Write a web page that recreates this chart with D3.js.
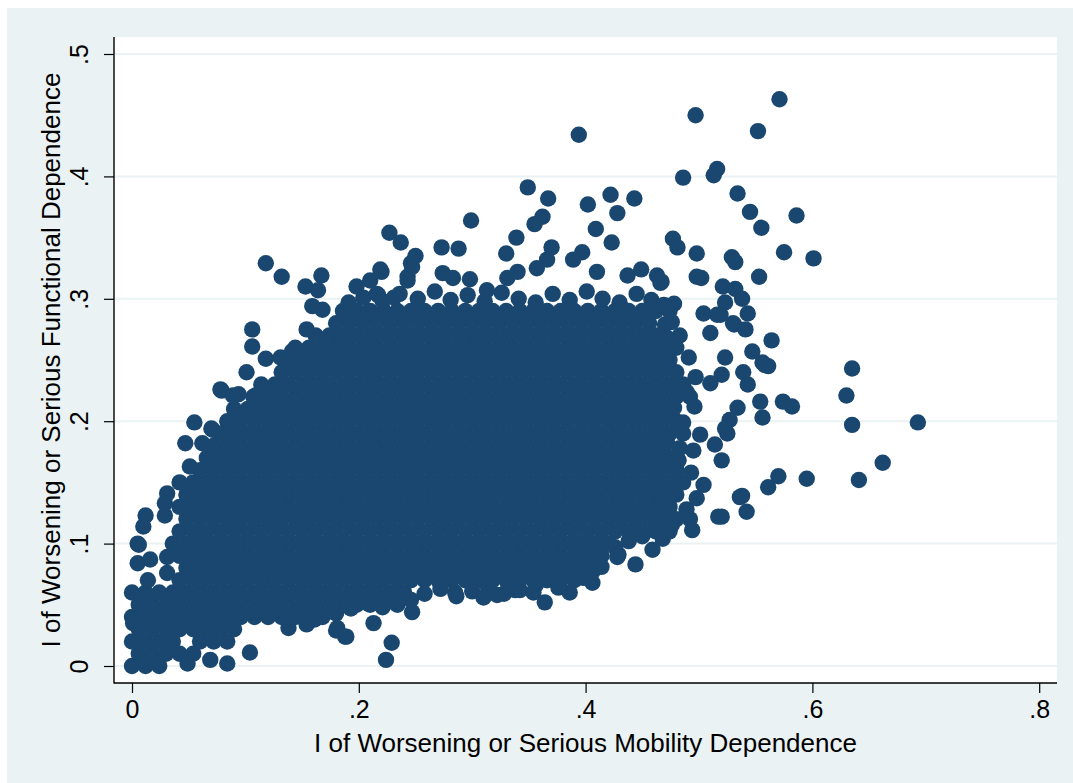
<!DOCTYPE html>
<html>
<head>
<meta charset="utf-8">
<script src="https://cdn.jsdelivr.net/npm/d3@7"></script>
<style>
  html, body { margin: 0; padding: 0; background: #ffffff; }
  svg { display: block; }
  text { font-family: "Liberation Sans", Arial, Helvetica, sans-serif; fill: #000; }
</style>
</head>
<body>
<svg id="chart" width="1073" height="783"></svg>
<script>
// Axis ticks and titles
const xTicks = [0, 0.2, 0.4, 0.6, 0.8];
const xTickLabels = ["0", ".2", ".4", ".6", ".8"];
const yTicks = [0, 0.1, 0.2, 0.3, 0.4, 0.5];
const yTickLabels = ["0", ".1", ".2", ".3", ".4", ".5"];
const xTitle = "I of Worsening or Serious Mobility Dependence";
const yTitle = "I of Worsening or Serious Functional Dependence";

// Dense central mass of observations, one list of x values per y level
const coreRowY = [0.00, 0.01, 0.02, 0.03, 0.04, 0.05, 0.06, 0.07, 0.08, 0.09, 0.10,
                  0.11, 0.12, 0.13, 0.14, 0.15, 0.16, 0.17, 0.18, 0.19, 0.20,
                  0.21, 0.22, 0.23, 0.24, 0.25, 0.26, 0.27, 0.28, 0.29];
const coreRowX = [
  [0,.012,.024],
  [.006,.018,.030,.042,.054],
  [0,.012,.024,.036,.060,.072,.084],
  [.006,.018,.030,.042,.054,.066,.078,.090],
  [0,.012,.024,.036,.048,.060,.072,.084,.096,.108,.120,.132,.144,.156,.168],
  [.006,.018,.030,.042,.054,.066,.078,.090,.102,.114,.126,.138,.150,.162,.174,.186,.198,.210,.222,.234],
  [0,.012,.024,.036,.048,.060,.072,.084,.096,.108,.120,.132,.144,.156,.168,.180,.192,.204,.216,.228,.240],
  [.042,.054,.066,.078,.090,.102,.114,.126,.138,.150,.162,.174,.186,.198,.210,.222,.234,.246,.258,.270,.282,.294,.306,.318,.330,.342,.354,.366,.378,.390],
  [.048,.060,.072,.084,.096,.108,.120,.132,.144,.156,.168,.180,.192,.204,.216,.228,.240,.252,.264,.276,.288,.300,.312,.324,.336,.348,.360,.372,.384,.396,.408],
  [.042,.054,.066,.078,.090,.102,.114,.126,.138,.150,.162,.174,.186,.198,.210,.222,.234,.246,.258,.270,.282,.294,.306,.318,.330,.342,.354,.366,.378,.390,.402,.414],
  [.036,.048,.060,.072,.084,.096,.108,.120,.132,.144,.156,.168,.180,.192,.204,.216,.228,.240,.252,.264,.276,.288,.300,.312,.324,.336,.348,.360,.372,.384,.396,.408,.420],
  [.042,.054,.066,.078,.090,.102,.114,.126,.138,.150,.162,.174,.186,.198,.210,.222,.234,.246,.258,.270,.282,.294,.306,.318,.330,.342,.354,.366,.378,.390,.402,.414,.426,.438,.450,.462],
  [.048,.060,.072,.084,.096,.108,.120,.132,.144,.156,.168,.180,.192,.204,.216,.228,.240,.252,.264,.276,.288,.300,.312,.324,.336,.348,.360,.372,.384,.396,.408,.420,.432,.444,.456,.468,.480,.492],
  [.042,.054,.066,.078,.090,.102,.114,.126,.138,.150,.162,.174,.186,.198,.210,.222,.234,.246,.258,.270,.282,.294,.306,.318,.330,.342,.354,.366,.378,.390,.402,.414,.426,.438,.450,.462,.474],
  [.048,.060,.072,.084,.096,.108,.120,.132,.144,.156,.168,.180,.192,.204,.216,.228,.240,.252,.264,.276,.288,.300,.312,.324,.336,.348,.360,.372,.384,.396,.408,.420,.432,.444,.456,.468,.480],
  [.054,.066,.078,.090,.102,.114,.126,.138,.150,.162,.174,.186,.198,.210,.222,.234,.246,.258,.270,.282,.294,.306,.318,.330,.342,.354,.366,.378,.390,.402,.414,.426,.438,.450,.462,.474,.486],
  [.060,.072,.084,.096,.108,.120,.132,.144,.156,.168,.180,.192,.204,.216,.228,.240,.252,.264,.276,.288,.300,.312,.324,.336,.348,.360,.372,.384,.396,.408,.420,.432,.444,.456,.468,.480],
  [.066,.078,.090,.102,.114,.126,.138,.150,.162,.174,.186,.198,.210,.222,.234,.246,.258,.270,.282,.294,.306,.318,.330,.342,.354,.366,.378,.390,.402,.414,.426,.438,.450,.462,.474],
  [.072,.084,.096,.108,.120,.132,.144,.156,.168,.180,.192,.204,.216,.228,.240,.252,.264,.276,.288,.300,.312,.324,.336,.348,.360,.372,.384,.396,.408,.420,.432,.444,.456,.468],
  [.078,.090,.102,.114,.126,.138,.150,.162,.174,.186,.198,.210,.222,.234,.246,.258,.270,.282,.294,.306,.318,.330,.342,.354,.366,.378,.390,.402,.414,.426,.438,.450,.462,.474,.486],
  [.084,.096,.108,.120,.132,.144,.156,.168,.180,.192,.204,.216,.228,.240,.252,.264,.276,.288,.300,.312,.324,.336,.348,.360,.372,.384,.396,.408,.420,.432,.444,.456,.468,.480],
  [.090,.102,.114,.126,.138,.150,.162,.174,.186,.198,.210,.222,.234,.246,.258,.270,.282,.294,.306,.318,.330,.342,.354,.366,.378,.390,.402,.414,.426,.438,.450,.462,.474],
  [.108,.120,.132,.144,.156,.168,.180,.192,.204,.216,.228,.240,.252,.264,.276,.288,.300,.312,.324,.336,.348,.360,.372,.384,.396,.408,.420,.432,.444,.456,.468,.480,.492],
  [.114,.126,.138,.150,.162,.174,.186,.198,.210,.222,.234,.246,.258,.270,.282,.294,.306,.318,.330,.342,.354,.366,.378,.390,.402,.414,.426,.438,.450,.462,.474,.486],
  [.132,.144,.156,.168,.180,.192,.204,.216,.228,.240,.252,.264,.276,.288,.300,.312,.324,.336,.348,.360,.372,.384,.396,.408,.420,.432,.444,.456,.468,.480],
  [.138,.150,.162,.174,.186,.198,.210,.222,.234,.246,.258,.270,.282,.294,.306,.318,.330,.342,.354,.366,.378,.390,.402,.414,.426,.438,.450,.462,.474],
  [.144,.156,.168,.180,.192,.204,.216,.228,.240,.252,.264,.276,.288,.300,.312,.324,.336,.348,.360,.372,.384,.396,.408,.420,.432,.444,.456,.468,.480],
  [.162,.174,.186,.198,.210,.222,.234,.246,.258,.270,.282,.294,.306,.318,.330,.342,.354,.366,.378,.390,.402,.414,.426,.438,.450,.462],
  [.180,.192,.204,.216,.228,.240,.252,.264,.276,.288,.300,.312,.324,.336,.348,.360,.372,.384,.396,.408,.420,.432,.444,.456],
  [.186,.198,.210,.222,.234,.246,.258,.270,.282,.294,.306,.318,.330,.342,.354,.366,.378,.390,.402,.414,.426,.438,.450,.462,.474]
];

// Observations along the ragged rim of the mass: [x, y]
const rimPoints = [
  // upper rim
  [0.204,0.301],[0.221,0.298],[0.236,0.304],[0.252,0.300],[0.267,0.306],[0.281,0.299],[0.296,0.303],
  [0.311,0.298],[0.326,0.305],[0.341,0.300],[0.356,0.297],[0.371,0.304],[0.386,0.299],[0.401,0.306],
  [0.415,0.300],[0.430,0.297],[0.445,0.304],[0.458,0.299],[0.469,0.295],
  // right rim
  [0.470,0.279],[0.476,0.262],[0.491,0.252],[0.497,0.236],[0.489,0.224],[0.496,0.212],[0.486,0.199],
  [0.495,0.176],[0.482,0.168],[0.493,0.158],[0.498,0.137],[0.489,0.128],[0.483,0.178],[0.478,0.211],
  // lower rim
  [0.246,0.054],[0.258,0.059],[0.272,0.063],[0.286,0.057],[0.300,0.061],[0.314,0.064],[0.328,0.059],
  [0.342,0.062],[0.356,0.066],[0.398,0.072],[0.414,0.081],[0.426,0.097],[0.438,0.102],[0.450,0.106],
  [0.180,0.043],[0.193,0.047],[0.208,0.051],[0.221,0.048],[0.234,0.053],[0.161,0.038],
  [0.474,0.110],[0.468,0.104]
];

// Scattered observations around the mass: [x, y]
const upperPoints = [
  [0.571,0.463],[0.497,0.450],[0.394,0.434],[0.552,0.437],[0.486,0.399],[0.516,0.406],[0.513,0.401],
  [0.349,0.391],[0.367,0.382],[0.402,0.377],[0.422,0.385],[0.443,0.382],[0.428,0.370],[0.362,0.367],
  [0.355,0.361],[0.409,0.357],[0.299,0.364],[0.339,0.350],[0.423,0.346],
  [0.534,0.386],[0.545,0.371],[0.555,0.358],[0.586,0.368],
  [0.477,0.349],[0.481,0.342],[0.498,0.337],[0.529,0.334],[0.532,0.330],[0.575,0.338],[0.601,0.333],
  [0.502,0.317],[0.553,0.318],[0.449,0.324],[0.463,0.319],[0.467,0.314],[0.521,0.310],[0.532,0.308],
  [0.538,0.300],[0.523,0.297],[0.543,0.288],[0.519,0.287],[0.531,0.279],[0.541,0.275],
  [0.330,0.337],[0.370,0.342],[0.397,0.338],[0.366,0.332],[0.274,0.321],[0.283,0.317],[0.298,0.316],
  [0.313,0.307],[0.331,0.317],[0.340,0.322],[0.357,0.325],[0.389,0.332],[0.410,0.322],[0.437,0.319],
  [0.466,0.313],[0.498,0.318]
];
const rightPoints = [
  [0.564,0.266],[0.547,0.257],[0.523,0.252],[0.556,0.248],[0.561,0.245],[0.539,0.240],[0.543,0.230],
  [0.520,0.238],[0.554,0.216],[0.574,0.216],[0.582,0.212],
  [0.635,0.243],[0.630,0.221],[0.635,0.197],[0.693,0.199],[0.662,0.166],[0.641,0.152],[0.595,0.153],
  [0.570,0.155],[0.561,0.146],[0.536,0.138],[0.542,0.126],[0.520,0.122],
  [0.556,0.203],[0.534,0.211],[0.527,0.201],[0.525,0.190],[0.520,0.168],[0.514,0.181],[0.504,0.148],
  [0.538,0.139],[0.501,0.189],[0.472,0.182],
  [0.510,0.272],[0.530,0.280],[0.504,0.288],[0.516,0.287],[0.478,0.296],[0.476,0.281],[0.483,0.270],
  [0.472,0.268],[0.558,0.246],[0.510,0.231],[0.523,0.194]
];
const lowerPoints = [
  [0.494,0.111],[0.459,0.095],[0.429,0.091],[0.476,0.115],[0.459,0.115],[0.517,0.122],[0.428,0.089],
  [0.444,0.083],[0.406,0.068],[0.406,0.077],[0.386,0.074],[0.386,0.060],[0.376,0.064],[0.364,0.052],
  [0.354,0.060],[0.338,0.062],[0.310,0.056],[0.285,0.060],[0.322,0.058],
  [0.247,0.044],[0.213,0.035],[0.181,0.031],[0.188,0.024],[0.229,0.019],[0.224,0.005],[0.121,0.042],
  [0.138,0.031],[0.154,0.034],[0.180,0.029],[0.189,0.024],[0.104,0.011],
  [0.022,0.002],[0.049,0.002],[0.069,0.005],[0.084,0.002]
];
const leftPoints = [
  [0.118,0.329],[0.132,0.318],[0.167,0.319],[0.153,0.310],[0.164,0.307],[0.159,0.294],[0.168,0.291],
  [0.227,0.354],[0.237,0.346],[0.220,0.322],[0.198,0.310],[0.216,0.304],[0.231,0.301],[0.243,0.318],
  [0.246,0.329],[0.106,0.275],[0.106,0.261],[0.118,0.251],[0.101,0.240],[0.078,0.226],[0.094,0.222],
  [0.109,0.221],[0.055,0.199],[0.070,0.194],[0.131,0.252],[0.141,0.257],[0.154,0.275],[0.191,0.297],
  [0.208,0.289],[0.228,0.285],[0.219,0.324],[0.210,0.315],[0.250,0.335],[0.247,0.326],[0.243,0.315],
  [0.273,0.342],[0.288,0.341],[0.217,0.303],[0.079,0.225],[0.089,0.221],[0.107,0.220],
  [0.047,0.182],[0.062,0.182],[0.071,0.193],[0.051,0.163],[0.042,0.150],[0.031,0.141],[0.029,0.133],
  [0.029,0.123],[0.012,0.123],[0.010,0.114],[0.005,0.100],[0.005,0.084],[0.016,0.087],[0.014,0.070],
  [0.031,0.089],[0.031,0.076],[0.007,0.054],[0.001,0.035],[0.006,0.099]
];

// ---- drawing ----
const W = 1073, H = 783;
const svg = d3.select("#chart");
const markerColor = "#1a476f";
const gridColor = "#eaf2f3";
const plot = { left: 114, right: 1057, top: 37, bottom: 683 };

const x = d3.scaleLinear().domain([0, 0.8]).range([132, 1039.2]);
const y = d3.scaleLinear().domain([0, 0.5]).range([666, 54]);

// outer graph region and white plot region
svg.append("rect").attr("x", 7).attr("y", 8).attr("width", W - 7).attr("height", H - 8).attr("fill", gridColor);
svg.append("rect").attr("x", plot.left).attr("y", plot.top)
  .attr("width", plot.right - plot.left).attr("height", plot.bottom - plot.top).attr("fill", "#ffffff");

// horizontal grid lines
svg.append("g").selectAll("line").data(yTicks).join("line")
  .attr("x1", plot.left).attr("x2", plot.right)
  .attr("y1", d => y(d)).attr("y2", d => y(d))
  .attr("stroke", gridColor).attr("stroke-width", 2);

// observations
const points = [];
coreRowY.forEach((yv, i) => coreRowX[i].forEach(xv => points.push([xv, yv])));
[rimPoints, upperPoints, rightPoints, lowerPoints, leftPoints].forEach(a => a.forEach(p => points.push(p)));

svg.append("g").selectAll("circle").data(points).join("circle")
  .attr("cx", d => x(d[0])).attr("cy", d => y(d[1]))
  .attr("r", 8.2).attr("fill", markerColor);

// axes
const yAxis = d3.axisLeft(y).tickValues(yTicks)
  .tickFormat((d, i) => yTickLabels[i]).tickSize(10).tickSizeOuter(0);
const gy = svg.append("g").attr("transform", `translate(${plot.left},0)`).call(yAxis);
gy.select(".domain").remove();
gy.selectAll(".tick line").attr("stroke", "#000").attr("stroke-width", 1.2);
gy.selectAll(".tick text")
  .attr("transform", "rotate(-90)")
  .attr("x", 0).attr("y", -26).attr("dy", 0)
  .attr("text-anchor", "middle")
  .style("font-size", "25px")
  .style("font-family", '"Liberation Sans", Arial, sans-serif');

const xAxis = d3.axisBottom(x).tickValues(xTicks)
  .tickFormat((d, i) => xTickLabels[i]).tickSize(10).tickSizeOuter(0);
const gx = svg.append("g").attr("transform", `translate(0,${plot.bottom})`).call(xAxis);
gx.select(".domain").remove();
gx.selectAll(".tick line").attr("stroke", "#000").attr("stroke-width", 1.2);
gx.selectAll(".tick text")
  .attr("y", 35).attr("dy", 0)
  .style("font-size", "25px")
  .style("font-family", '"Liberation Sans", Arial, sans-serif');

// axis lines
svg.append("line").attr("x1", plot.left).attr("x2", plot.left)
  .attr("y1", plot.top).attr("y2", plot.bottom + 0.6).attr("stroke", "#000").attr("stroke-width", 1.4);
svg.append("line").attr("x1", plot.left).attr("x2", plot.right)
  .attr("y1", plot.bottom).attr("y2", plot.bottom).attr("stroke", "#000").attr("stroke-width", 1.4);

// axis titles
svg.append("text").attr("x", (plot.left + plot.right) / 2).attr("y", 752)
  .attr("text-anchor", "middle").style("font-size", "26px").text(xTitle);
svg.append("text").attr("transform", `translate(60,${(plot.top + plot.bottom) / 2}) rotate(-90)`)
  .attr("text-anchor", "middle").style("font-size", "26px").text(yTitle);
</script>
</body>
</html>
